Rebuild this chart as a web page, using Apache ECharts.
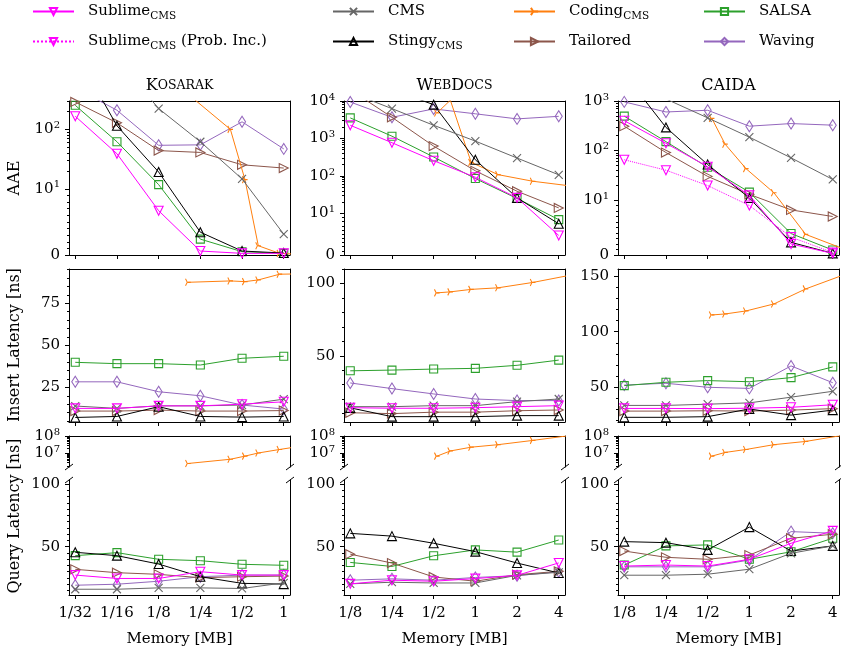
<!DOCTYPE html>
<html><head><meta charset="utf-8">
<script src="https://cdn.jsdelivr.net/npm/echarts@6.0.0/dist/echarts.min.js"></script>
<style>html,body{margin:0;padding:0;background:#fff;}#chart{width:841px;height:656px;}</style>
</head><body><div id="chart"></div>
<script>
// ---------------- data ----------------
const memKosarak = [1/32, 1/16, 1/8, 1/4, 1/2, 1];
const memWebDocs = [1/8, 1/4, 1/2, 1, 2, 4];
const memCaida = [1/8, 1/4, 1/2, 1, 2, 4];
const tickLabelsKosarak = ['1/32', '1/16', '1/8', '1/4', '1/2', '1'];
const tickLabelsWebDocs = ['1/8', '1/4', '1/2', '1', '2', '4'];
const tickLabelsCaida = ['1/8', '1/4', '1/2', '1', '2', '4'];
const memCodingKosarak = [0.204, 0.412, 0.525, 0.655, 0.933, 1.32];
const memCodingWebDocs = [0.529, 0.66, 0.933, 1.46, 2.6, 5.28];
const memCodingCaida = [0.536, 0.669, 0.946, 1.505, 2.55, 4.92];

// AAE
const aaeKosarakSublime = [166, 39, 6.7, 0.6, 0.25, 0.25];
const aaeKosarakCms = [4000, 1500, 224, 62, 14.7, 3.15];
const aaeKosarakStingy = [2000, 115, 19.2, 3.45, 0.6, 0.3];
const aaeKosarakCoding = [390, 100, 14.3, 1.4, 0.25, 0.1];
const aaeKosarakTailored = [289, 129, 44, 41, 25.4, 22.4];
const aaeKosarakSalsa = [254, 62, 11.8, 2.4, 0.5, 0.25];
const aaeKosarakWaving = [500, 210, 54, 55, 134, 47];

const aaeWebDocsSublime = [2250, 770, 255, 92, 26, 4.7];
const aaeWebDocsCms = [17000, 6260, 2250, 850, 300, 107];
const aaeWebDocsStingy = [40000, 20000, 8000, 270, 26, 7.5];
const aaeWebDocsCoding = [4800, 10500, 230, 108, 72, 52];
const aaeWebDocsTailored = [20000, 3670, 625, 137, 39, 14];
const aaeWebDocsSalsa = [3540, 1150, 320, 85, 25, 8.5];
const aaeWebDocsWaving = [9400, 3670, 6150, 4550, 3330, 3900];

const aaeCaidaSublime = [400, 140, 47, 12.4, 2.0, 0.3];
const aaeCaidaProbInc = [65, 40, 19.6, 9, 3.25, 0.45];
const aaeCaidaCms = [2500, 1100, 457, 186, 71, 26];
const aaeCaidaStingy = [3500, 293, 52, 11, 2.3, 0.3];
const aaeCaidaCoding = [445, 134, 43, 14, 3.75, 1.0];
const aaeCaidaTailored = [310, 91, 30, 13, 8.2, 7.0];
const aaeCaidaSalsa = [494, 151, 46, 14.4, 3.9, 0.9];
const aaeCaidaWaving = [960, 600, 650, 310, 350, 325];

// Insert latency [ns]
const insKosarakSublime = [12.5, 12.5, 14, 14, 15, 16.4];
const insKosarakCms = [13.9, 12.5, 14, 14, 14.5, 18];
const insKosarakStingy = [7.1, 7.7, 13.5, 7.7, 7.3, 7.7];
const insKosarakCoding = [87.5, 88.3, 87.9, 88.9, 92.3, 92.5];
const insKosarakTailored = [10.9, 10.9, 11.5, 10.9, 10.9, 11.2];
const insKosarakSalsa = [39.9, 39.1, 39.1, 38.3, 42.3, 43.5];
const insKosarakWaving = [28.3, 28.3, 22.4, 20.0, 14.5, 12.1];

const insWebDocsSublime = [14.1, 13.7, 13.7, 14.1, 14.8, 15.5];
const insWebDocsCms = [14.8, 14.8, 15.5, 15.5, 18.3, 20.1];
const insWebDocsStingy = [14, 7.9, 7.9, 7.9, 8.6, 8.6];
const insWebDocsCoding = [93.5, 94.2, 95.9, 97, 100.7, 106.4];
const insWebDocsTailored = [10.6, 10, 11, 11, 12, 12.5];
const insWebDocsSalsa = [39.6, 40.1, 40.8, 41.3, 43.4, 47];
const insWebDocsWaving = [31.2, 27.3, 23.6, 20.1, 19.0, 19.0];

const insCaidaSublime = [31, 31, 30.8, 31.2, 32, 34.3];
const insCaidaCms = [33.7, 33.7, 34.8, 36, 41.1, 46.4];
const insCaidaStingy = [23, 23, 23.6, 30.5, 25, 29.5];
const insCaidaCoding = [115, 115.9, 118.6, 124.9, 138.4, 151.5];
const insCaidaTailored = [28.6, 28.6, 28.9, 28.6, 29.5, 30.8];
const insCaidaSalsa = [51.5, 54.5, 56, 55, 58.7, 68.3];
const insCaidaWaving = [52, 53.6, 50, 49, 69.2, 54.1];

// Query latency [ns] (upper broken part: Coding only)
const qryKosarakCoding = [2.7e6, 4.7e6, 7.1e6, 1.07e7, 1.7e7, 2.6e7];
const qryWebDocsCoding = [7.1e6, 1.4e7, 2.3e7, 3.2e7, 5.6e7, 1.17e8];
const qryCaidaCoding = [7.1e6, 1.15e7, 1.7e7, 3.2e7, 4.9e7, 1.15e8];

const qryKosarakSublime = [27.3, 24.6, 24.6, 30, 27.3, 27.3];
const qryKosarakCms = [16, 16, 17.1, 17.1, 16.6, 21.1];
const qryKosarakStingy = [45.5, 42.8, 36.1, 26, 20.7, 20.1];
const qryKosarakTailored = [31.9, 29.2, 27.9, 25.2, 26, 26.5];
const qryKosarakSalsa = [42.8, 45.2, 39.9, 38.8, 35.9, 35.1];
const qryKosarakWaving = [19.2, 20, 22.4, 26, 27.3, 27.3];

const qryWebDocsSublime = [20.3, 23.2, 22.4, 24.5, 27.1, 37];
const qryWebDocsCms = [20.3, 21.6, 21, 21, 27.1, 29.5];
const qryWebDocsStingy = [60.6, 58.4, 52.7, 46, 36.9, 29];
const qryWebDocsTailored = [44, 36.9, 25.8, 22.4, 27.6, 30.3];
const qryWebDocsSalsa = [37.4, 34.2, 42.7, 47.4, 45.6, 55.3];
const qryWebDocsWaving = [23.2, 24.3, 23.2, 25.4, 26.8, 30];

const qryCaidaSublime = [34.5, 35.3, 34.5, 39.9, 52.7, 62.6];
const qryCaidaCms = [27.2, 27.2, 28, 32, 44.7, 50.6];
const qryCaidaStingy = [54, 53.2, 47.4, 65.6, 46.5, 50.6];
const qryCaidaTailored = [46.5, 41.5, 39.9, 43.3, 56.7, 59.9];
const qryCaidaSalsa = [35.3, 50.6, 51.4, 39.9, 45.9, 56.7];
const qryCaidaWaving = [33.9, 33.9, 33.9, 39.3, 62, 60.7];

// ---------------- assembly ----------------
const FONT = 'DejaVu Serif';
const PANELS = [
  { title: '{b|K}{s|OSARAK}', mem: memKosarak, codingMem: memCodingKosarak, ticks: tickLabelsKosarak,
    xRange: [-5.15, 0.15],
    aaeMax: 300, insRange: [4.4, 95.4], insMajor: [25, 50, 75], insMinorStep: 5,
    aae: {sublime: aaeKosarakSublime, cms: aaeKosarakCms, stingy: aaeKosarakStingy, coding: aaeKosarakCoding, tailored: aaeKosarakTailored, salsa: aaeKosarakSalsa, waving: aaeKosarakWaving},
    ins: {sublime: insKosarakSublime, cms: insKosarakCms, stingy: insKosarakStingy, coding: insKosarakCoding, tailored: insKosarakTailored, salsa: insKosarakSalsa, waving: insKosarakWaving},
    qHigh: {coding: qryKosarakCoding},
    qLow: {sublime: qryKosarakSublime, cms: qryKosarakCms, stingy: qryKosarakStingy, tailored: qryKosarakTailored, salsa: qryKosarakSalsa, waving: qryKosarakWaving} },
  { title: '{b|W}{s|EB}{b|D}{s|OCS}', mem: memWebDocs, codingMem: memCodingWebDocs, ticks: tickLabelsWebDocs,
    xRange: [-3.15, 2.15],
    aaeMax: 10000, insRange: [4.2, 110], insMajor: [50, 100], insMinorStep: 10,
    aae: {sublime: aaeWebDocsSublime, cms: aaeWebDocsCms, stingy: aaeWebDocsStingy, coding: aaeWebDocsCoding, tailored: aaeWebDocsTailored, salsa: aaeWebDocsSalsa, waving: aaeWebDocsWaving},
    ins: {sublime: insWebDocsSublime, cms: insWebDocsCms, stingy: insWebDocsStingy, coding: insWebDocsCoding, tailored: insWebDocsTailored, salsa: insWebDocsSalsa, waving: insWebDocsWaving},
    qHigh: {coding: qryWebDocsCoding},
    qLow: {sublime: qryWebDocsSublime, cms: qryWebDocsCms, stingy: qryWebDocsStingy, tailored: qryWebDocsTailored, salsa: qryWebDocsSalsa, waving: qryWebDocsWaving} },
  { title: '{b|CAIDA}', mem: memCaida, codingMem: memCodingCaida, ticks: tickLabelsCaida,
    xRange: [-3.15, 2.15],
    aaeMax: 1000, insRange: [18.8, 156.3], insMajor: [50, 100, 150], insMinorStep: 10,
    aae: {sublime: aaeCaidaSublime, probInc: aaeCaidaProbInc, cms: aaeCaidaCms, stingy: aaeCaidaStingy, coding: aaeCaidaCoding, tailored: aaeCaidaTailored, salsa: aaeCaidaSalsa, waving: aaeCaidaWaving},
    ins: {sublime: insCaidaSublime, cms: insCaidaCms, stingy: insCaidaStingy, coding: insCaidaCoding, tailored: insCaidaTailored, salsa: insCaidaSalsa, waving: insCaidaWaving},
    qHigh: {coding: qryCaidaCoding},
    qLow: {sublime: qryCaidaSublime, cms: qryCaidaCms, stingy: qryCaidaStingy, tailored: qryCaidaTailored, salsa: qryCaidaSalsa, waving: qryCaidaWaving} }
];

const SERIES_DEFS = [
  {key: 'waving', name: 'Waving', color: '#9467bd', symbol: 'diamond', size: [7, 11], rotate: 0},
  {key: 'salsa', name: 'SALSA', color: '#2ca02c', symbol: 'rect', size: 8, rotate: 0},
  {key: 'tailored', name: 'Tailored', color: '#8c564b', symbol: 'triangle', size: 9, rotate: -90},
  {key: 'coding', name: 'Coding_CMS', color: '#ff7f0e', symbol: 'path://M5,5L10,5M5,5L2.5,0.67M5,5L2.5,9.33', size: [6, 7], rotate: 0},
  {key: 'stingy', name: 'Stingy_CMS', color: '#000000', symbol: 'triangle', size: 9, rotate: 0},
  {key: 'cms', name: 'CMS', color: '#666666', symbol: 'path://M0,0L10,10M0,10L10,0', size: 8, rotate: 0},
  {key: 'probInc', name: 'Sublime_CMS (Prob. Inc.)', color: '#ff00ff', symbol: 'triangle', size: 9, rotate: 180, dotted: true},
  {key: 'sublime', name: 'Sublime_CMS', color: '#ff00ff', symbol: 'triangle', size: 9, rotate: 180}
];

// layout (pixels)
const COL_LEFT = [69, 344, 618];
const GRID_W = 221;
const ROW_TOP = [101, 269, 436, 480];
const ROW_H = [154, 153, 31, 115];

const LIN = 1 / (1 - 0.1);
const symlog = v => v <= 10 ? v / 10 * LIN : LIN + Math.log10(v / 10);
const ident = v => v;
const log10 = v => Math.log10(v);
const powLabel = v => v === 0 ? '{b|0}' : '{b|10}{s|' + Math.round(Math.log10(v)) + '}';
const plainLabel = v => '{b|' + v + '}';

const grids = [], xAxes = [], yAxes = [], series = [], graphics = [];
const labelRich = {
  b: {fontFamily: FONT, fontSize: 15, lineHeight: 18, color: '#000'},
  s: {fontFamily: FONT, fontSize: 10, lineHeight: 10, verticalAlign: 'top', color: '#000'}
};

function rangeStep(a, b, step, excl) {
  const out = [];
  for (let v = Math.ceil(a / step) * step; v <= b + 1e-9; v += step) if (!excl.includes(v)) out.push(v);
  return out;
}
function logMinors(lo, hi, startDec) {
  const out = [];
  for (let d = startDec; Math.pow(10, d) <= hi * 10; d++) for (let k = 2; k <= 9; k++) {
    const v = k * Math.pow(10, d); if (v >= lo && v <= hi) out.push(v);
  }
  return out;
}

PANELS.forEach((p, c) => {
  for (let r = 0; r < 4; r++) {
    const gi = grids.length;
    grids.push({left: COL_LEFT[c], top: ROW_TOP[r], width: GRID_W, height: ROW_H[r], containLabel: false});
    const xt = p.mem.map(Math.log2);
    const xi = xAxes.length;
    xAxes.push({
      gridIndex: gi, type: 'value', position: 'bottom', min: p.xRange[0], max: p.xRange[1],
      axisLine: {show: r !== 2, onZero: false, lineStyle: {color: '#000', width: 1}},
      axisTick: {show: r !== 2, customValues: xt, length: 4, lineStyle: {color: '#000', width: 1}},
      axisLabel: {show: r === 3, customValues: xt, margin: 11, color: '#000', fontFamily: FONT, fontSize: 15,
        formatter: val => { const i = xt.findIndex(t => Math.abs(t - val) < 1e-6); return i >= 0 ? p.ticks[i] : ''; }},
      splitLine: {show: false}
    });
    xAxes.push({
      gridIndex: gi, type: 'value', position: 'top', min: p.xRange[0], max: p.xRange[1],
      axisLine: {show: r !== 3, onZero: false, lineStyle: {color: '#000', width: 1}},
      axisTick: {show: false}, axisLabel: {show: false}, splitLine: {show: false}
    });
    let tf, lo, hi, majors, minors, lab, data;
    if (r === 0) {
      tf = symlog; lo = 0; hi = p.aaeMax;
      majors = [0, 10, 100, 1000, 10000].filter(v => v <= hi * 1.0001);
      minors = [1,2,3,4,5,6,7,8,9].concat(logMinors(10, hi, 1));
      lab = powLabel; data = p.aae;
    } else if (r === 1) {
      tf = ident; lo = p.insRange[0]; hi = p.insRange[1];
      majors = p.insMajor; minors = rangeStep(lo, hi, p.insMinorStep, majors);
      lab = plainLabel; data = p.ins;
    } else if (r === 2) {
      tf = log10; lo = Math.pow(10, 6.23); hi = 1e8;
      majors = [1e7, 1e8]; minors = logMinors(lo, hi, 6);
      lab = powLabel; data = p.qHigh;
    } else {
      tf = ident; lo = 11.4; hi = 103.2;
      majors = [50, 100]; minors = rangeStep(lo, hi, 5, majors);
      lab = plainLabel; data = p.qLow;
    }
    const majPos = majors.map(tf), minPos = minors.map(tf);
    const yi = yAxes.length;
    yAxes.push({
      gridIndex: gi, type: 'value', position: 'left', min: tf(lo), max: tf(hi),
      axisLine: {show: true, onZero: false, lineStyle: {color: '#000', width: 1}},
      axisTick: {show: true, customValues: majPos, length: 4, lineStyle: {color: '#000', width: 1}},
      axisLabel: {show: true, customValues: majPos, margin: 9, color: '#000', fontFamily: FONT, fontSize: 15, rich: labelRich,
        formatter: val => { const i = majPos.findIndex(t => Math.abs(t - val) < 1e-6); return i >= 0 ? lab(majors[i]) : ''; }},
      splitLine: {show: false}
    });
    yAxes.push({
      gridIndex: gi, type: 'value', position: 'left', min: tf(lo), max: tf(hi),
      axisLine: {show: false, onZero: false},
      axisTick: {show: true, customValues: minPos, length: 2, lineStyle: {color: '#000', width: 1}},
      axisLabel: {show: false}, splitLine: {show: false}
    });
    yAxes.push({
      gridIndex: gi, type: 'value', position: 'right', min: tf(lo), max: tf(hi),
      axisLine: {show: true, onZero: false, lineStyle: {color: '#000', width: 1}},
      axisTick: {show: false}, axisLabel: {show: false}, splitLine: {show: false}
    });
    SERIES_DEFS.forEach((d, k) => {
      const vals = data[d.key];
      if (!vals) return;
      const mem = d.key === 'coding' ? p.codingMem : p.mem;
      series.push({
        type: 'line', name: d.name, xAxisIndex: xi, yAxisIndex: yi,
        data: mem.map((m, i) => [Math.log2(m), tf(vals[i])]),
        symbol: d.symbol, symbolSize: d.size, symbolRotate: d.rotate, symbolKeepAspect: true,
        showSymbol: true, showAllSymbol: true,
        lineStyle: {color: d.color, width: 1, type: d.dotted ? 'dotted' : 'solid'},
        itemStyle: {color: 'rgba(255,255,255,0)', borderColor: d.color, borderWidth: 1.1},
        emphasis: {disabled: true}, silent: true, animation: false, clip: true, z: 2 + k
      });
    });
  }
  const cx = COL_LEFT[c] + GRID_W / 2;
  graphics.push({type: 'text', x: cx, y: 86, silent: true, style: {
    text: p.title, align: 'center', verticalAlign: 'middle', fill: '#000',
    rich: {b: {fontFamily: FONT, fontSize: 16, lineHeight: 20, fill: '#000'},
           s: {fontFamily: FONT, fontSize: 12.5, lineHeight: 20, fill: '#000'}}}});
  graphics.push({type: 'text', x: cx, y: 639, silent: true, style: {
    text: 'Memory [MB]', align: 'center', verticalAlign: 'middle', fill: '#000', fontFamily: FONT, fontSize: 15}});
  // break marks
  const xl = COL_LEFT[c], xr = COL_LEFT[c] + GRID_W;
  [ROW_TOP[2] + ROW_H[2], ROW_TOP[3]].forEach(y => {
    [xl, xr].forEach(x => graphics.push({type: 'line', silent: true,
      shape: {x1: x - 4, y1: y + 3, x2: x + 4, y2: y - 3}, style: {stroke: '#000', lineWidth: 1}}));
  });
});

[['AAE', 178], ['Insert Latency [ns]', 345], ['Query Latency [ns]', 516]].forEach(([t, y]) => {
  graphics.push({type: 'text', x: 15, y: y, rotation: Math.PI / 2, silent: true, style: {
    text: t, align: 'center', verticalAlign: 'middle', fill: '#000', fontFamily: FONT, fontSize: 16}});
});

const LEGEND_TEXT = {
  'Sublime_CMS': '{f|Sublime}{s|CMS}',
  'Sublime_CMS (Prob. Inc.)': '{f|Sublime}{s|CMS}{n| (Prob. Inc.)}',
  'CMS': '{f|CMS}',
  'Stingy_CMS': '{f|Stingy}{s|CMS}',
  'Coding_CMS': '{f|Coding}{s|CMS}',
  'Tailored': '{f|Tailored}',
  'SALSA': '{f|SALSA}',
  'Waving': '{f|Waving}'
};
const LEGEND_POS = [['Sublime_CMS', 32, 4], ['Sublime_CMS (Prob. Inc.)', 32, 34], ['CMS', 332, 4], ['Stingy_CMS', 332, 34],
  ['Coding_CMS', 513, 4], ['Tailored', 513, 34], ['SALSA', 703, 4], ['Waving', 703, 34]];
const legends = LEGEND_POS.map(([n, x, y]) => ({
  left: x, top: y, data: [n], itemWidth: 41, itemHeight: 9, padding: 0, selectedMode: false,
  formatter: name => LEGEND_TEXT[name],
  textStyle: {fontFamily: FONT, fontSize: 15, color: '#000', rich: {
    f: {fontFamily: FONT, fontSize: 15, lineHeight: 20, padding: [0, 0, 0, 9], color: '#000'},
    n: {fontFamily: FONT, fontSize: 15, lineHeight: 20, color: '#000'},
    s: {fontFamily: FONT, fontSize: 10.5, lineHeight: 10, verticalAlign: 'bottom', color: '#000'}}}
}));

const chart = echarts.init(document.getElementById('chart'), null, {renderer: 'canvas'});
chart.setOption({
  animation: false,
  backgroundColor: '#fff',
  grid: grids, xAxis: xAxes, yAxis: yAxes, series: series,
  legend: legends, graphic: graphics, tooltip: {show: false}
});
</script></body></html>
